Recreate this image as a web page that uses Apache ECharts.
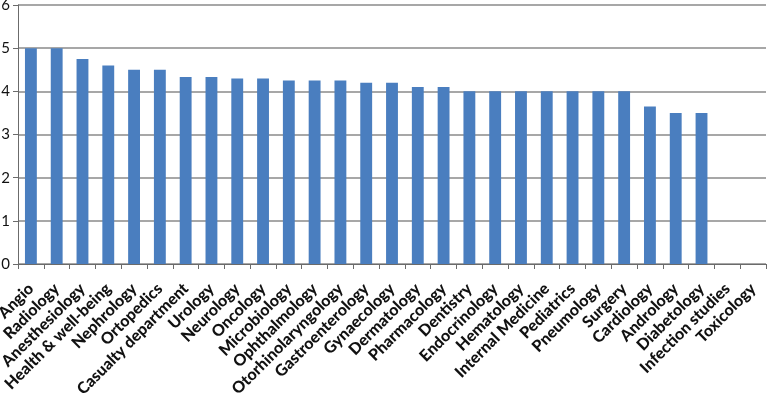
<!DOCTYPE html>
<html>
<head>
<meta charset="utf-8">
<script src="https://cdn.jsdelivr.net/npm/echarts@6/dist/echarts.min.js"></script>
<style>
  html, body { margin: 0; padding: 0; background: #fff; }
  #chart { width: 768px; height: 399px; }
</style>
</head>
<body>
<div id="chart"></div>
<script>
const categories = [
  'Angio', 'Radiology', 'Anesthesiology', 'Health & well-being', 'Nephrology',
  'Ortopedics', 'Casualty department', 'Urology', 'Neurology', 'Oncology',
  'Microbiology', 'Ophthalmology', 'Otorhinolaryngology', 'Gastroenterology', 'Gynaecology',
  'Dermatology', 'Pharmacology', 'Dentistry', 'Endocrinology', 'Hematology',
  'Internal Medicine', 'Pediatrics', 'Pneumology', 'Surgery', 'Cardiology',
  'Andrology', 'Diabetology', 'Infection studies', 'Toxicology'
]
const scores = [
  5, 5, 4.75, 4.6, 4.5,
  4.5, 4.33, 4.33, 4.3, 4.3,
  4.25, 4.25, 4.25, 4.2, 4.2,
  4.1, 4.1, 4, 4, 4,
  4, 4, 4, 4, 3.65,
  3.5, 3.5, 0, 0
]
const yTicks = { min: 0, max: 6, interval: 1 }

const option = {
  animation: false,
  grid: { left: 18, right: 2, top: 5, bottom: 135, containLabel: false, outerBoundsMode: 'none' },
  xAxis: {
    type: 'category',
    data: categories,
    axisLine: { lineStyle: { color: '#6b6b6b', width: 1 } },
    axisTick: { show: true, alignWithLabel: false, length: 5, lineStyle: { color: '#6b6b6b' } },
    axisLabel: {
      interval: 0,
      rotate: 45,
      margin: 22,
      color: '#111',
      fontFamily: 'Lato',
      fontWeight: 900,
      fontSize: 16
    }
  },
  yAxis: {
    type: 'value',
    min: yTicks.min,
    max: yTicks.max,
    interval: yTicks.interval,
    axisLine: { show: true, lineStyle: { color: '#6b6b6b', width: 1 } },
    axisTick: { show: true, length: 5, lineStyle: { color: '#6b6b6b' } },
    axisLabel: { margin: 8, color: '#111', fontFamily: 'Lato', fontSize: 15 },
    splitLine: { show: true, lineStyle: { color: '#8a8a8a', width: 1.5 } }
  },
  series: [{
    type: 'bar',
    data: scores,
    barWidth: '46%',
    itemStyle: { color: '#4a7ebf' }
  }]
}

const myChart = echarts.init(document.getElementById('chart'))
myChart.setOption(option)
</script>
</body>
</html>
